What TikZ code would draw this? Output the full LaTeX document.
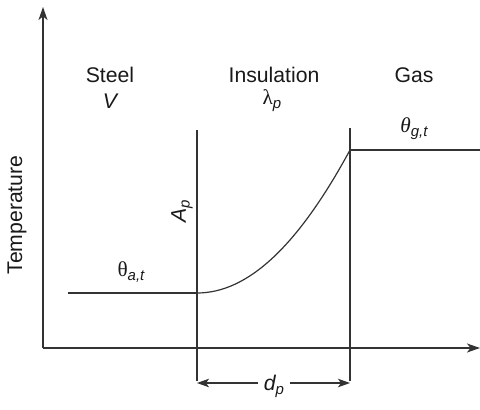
\documentclass[tikz,border=0pt]{standalone}
\usepackage{fontspec}
\setmainfont{Liberation Sans}
\newfontfamily\grk{Liberation Serif}
\usetikzlibrary{arrows.meta}
\newcommand{\subs}[1]{\raisebox{-0.35ex}{\fontsize{15}{15}\selectfont\itshape #1}}
\begin{document}
\begin{tikzpicture}[x=1pt,y=-1pt,
  line/.style={draw=black!80,line width=1.2pt},
  axis/.style={line, -{Stealth[length=13pt,width=9pt,inset=3.5pt]}},
  dim/.style={line, -{Stealth[length=12pt,width=8.5pt,inset=3pt]}},
  lbl/.style={text=black!90,font=\fontsize{21.2}{23}\selectfont,inner sep=0pt}]
\useasboundingbox (0,0) rectangle (480,410);
% axes
\coordinate (o) at (43,348);
\coordinate (ytop) at (43,7);
\coordinate (xend) at (480,348);
\draw[axis] (o) -- (ytop);
\draw[axis] (o) -- (xend);
% interface lines
\coordinate (l1t) at (197,130);
\coordinate (l1b) at (197,381);
\coordinate (l2t) at (350,128);
\coordinate (l2b) at (350,381);
\draw[line] (l1t) -- (l1b);
\draw[line] (l2t) -- (l2b);
% temperature levels
\coordinate (s0) at (68,293);
\coordinate (s1) at (197,293);
\coordinate (g0) at (350,150);
\coordinate (g1) at (480,150);
\draw[line] (s0) -- (s1);
\draw[line] (g0) -- (g1);
\draw[line] (s1) .. controls (248,293) and (298,246) .. (g0);
% labels
\node[lbl] (steel) at (110,75) {Steel};
\node[lbl] (V) at (110,101) {\itshape V};
\node[lbl] (ins) at (274,75) {Insulation};
\node[lbl] (lam) at (272,101) {{\grk λ}\subs{p}};
\node[lbl] (gas) at (414,75) {Gas};
\node[lbl] (thg) at (414,129) {{\grk\itshape θ}\subs{g,t}};
\node[lbl] (tha) at (131,272) {{\grk θ}\subs{a,t}};
\node[lbl,rotate=90] (Ap) at (182,211) {\itshape A\subs{p}};
\node[lbl,rotate=90] (temp) at (17,215) {Temperature};
% dimension
\node[lbl] (dp) at (274,386) {\itshape d\subs{p}};
\coordinate (dl) at (197,383);
\coordinate (dr) at (350,383);
\draw[dim] (dp.west|-dl) ++(-6,0) -- (dl);
\draw[dim] (dp.east|-dr) ++(6,0) -- (dr);
\end{tikzpicture}
\end{document}
